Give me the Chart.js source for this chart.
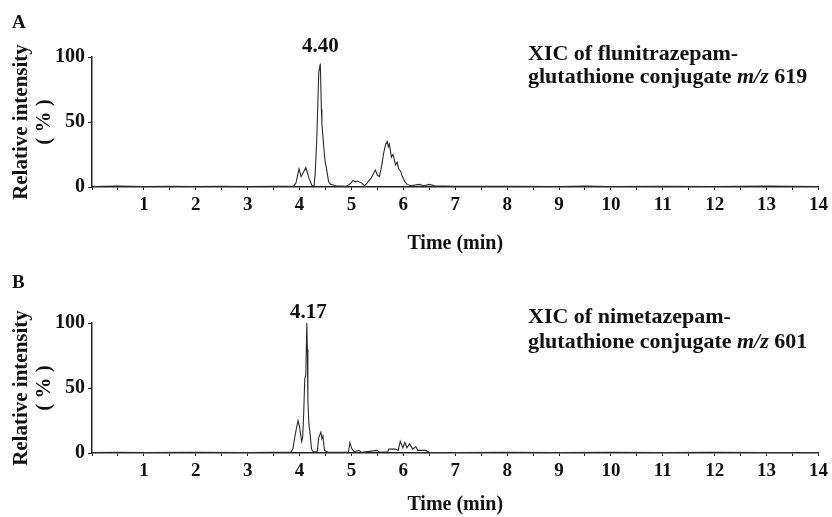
<!DOCTYPE html>
<html>
<head>
<meta charset="utf-8">
<script src="https://cdn.jsdelivr.net/npm/chart.js@4"></script>
<style>
  html, body { margin: 0; padding: 0; background: #fff; }
  #wrap { position: relative; width: 832px; height: 517px; }
  canvas { position: absolute; left: 0; }
  #chartA { top: 0; }
  #chartB { top: 260px; }
</style>
</head>
<body>
<div id="wrap">
  <canvas id="chartA" width="832" height="260"></canvas>
  <canvas id="chartB" width="832" height="257"></canvas>
</div>
<script>
// panel A - flunitrazepam-GSH conjugate, m/z 619
const timeA = [0, 0.5, 1, 1.5, 2, 2.5, 3, 3.5, 3.88, 3.93, 3.99, 4.03, 4.07, 4.12, 4.18, 4.24, 4.28,
  4.30, 4.33, 4.35, 4.37, 4.40, 4.42, 4.43, 4.46, 4.49, 4.51, 4.56, 4.60, 4.65, 4.70, 4.90,
  4.99, 5.03, 5.08, 5.12, 5.20, 5.25, 5.30, 5.38, 5.46, 5.50, 5.54, 5.59, 5.62, 5.66, 5.69,
  5.71, 5.73, 5.77, 5.80, 5.82, 5.85, 5.88, 5.91, 5.95, 5.98, 6.03, 6.07, 6.15, 6.30, 6.40,
  6.50, 6.60, 7, 8, 9, 9.5, 10, 11, 12, 13, 13.5, 14];
const intensityA = [0.4, 0.8, 0.4, 0.5, 0.4, 0.5, 0.4, 0.6, 0.5, 3, 14, 8, 11, 15, 7, 1, 1,
  10, 35, 62, 88, 95, 60, 49, 34, 20, 16, 4, 2, 1.5, 1, 0.5,
  3, 5, 4, 4.5, 3, 1, 3, 7, 13, 9, 8, 18, 26, 33, 35,
  31, 33, 23, 25, 22, 17, 19, 14, 12, 8, 4, 2, 1, 2, 1,
  2, 1, 0.5, 0.5, 0.4, 0.7, 0.4, 0.5, 0.4, 0.8, 0.5, 0.4];

// panel B - nimetazepam-GSH conjugate, m/z 601
const timeB = [0, 0.5, 1, 2, 3, 3.5, 3.83, 3.87, 3.92, 3.97, 4.00, 4.04, 4.06, 4.08, 4.10,
  4.12, 4.14, 4.15, 4.16, 4.18, 4.20, 4.23, 4.26, 4.34, 4.37, 4.41, 4.43, 4.45, 4.48, 4.55,
  4.94, 4.97, 5.01, 5.05, 5.14, 5.20, 5.49, 5.55, 5.70, 5.72, 5.85, 5.90, 5.94, 5.99, 6.03,
  6.07, 6.12, 6.18, 6.24, 6.28, 6.33, 6.43, 6.50, 7, 8, 9, 10, 11, 12, 13, 14];
const intensityB = [0.4, 0.5, 0.4, 0.5, 0.4, 0.5, 0.5, 3, 15, 25, 20, 9, 12, 31, 57,
  60, 100, 80, 41, 22, 16, 3, 1, 1, 12, 16, 11, 13, 2, 0.5,
  0.5, 8, 3, 1, 2, 0.5, 2, 0.5, 1, 3, 3, 2, 9, 4, 8,
  4, 7, 3, 5, 2, 2, 2, 0.5, 0.4, 0.5, 0.4, 0.5, 0.4, 0.5, 0.4, 0.4];

const xTickLabels = ['1', '2', '3', '4', '5', '6', '7', '8', '9', '10', '11', '12', '13', '14'];
const yTickLabels = ['0', '50', '100'];

const serif = "'Liberation Serif', 'Times New Roman', serif";

// letters, peak label and the XIC caption
const panelText = {
  id: 'panelText',
  afterDraw(chart, args, o) {
    const ctx = chart.ctx;
    const area = chart.chartArea;
    ctx.save();
    ctx.fillStyle = '#111';
    ctx.textBaseline = 'middle';
    ctx.textAlign = 'left';
    ctx.font = 'bold 19px ' + serif;
    ctx.fillText(o.letter, 12, 23);

    ctx.textAlign = 'center';
    ctx.font = 'bold 21px ' + serif;
    ctx.fillText(o.peakLabel, chart.scales.x.getPixelForValue(o.peakTime), area.top - 10);

    ctx.textAlign = 'left';
    ctx.textBaseline = 'alphabetic';
    ctx.font = 'bold 22px ' + serif;
    ctx.fillText(o.line1, 528, o.base1);
    let x = 528;
    o.line2.forEach(function (p) {
      ctx.font = p[1] + ' 22px ' + serif;
      ctx.fillText(p[0], x, o.base2);
      x += ctx.measureText(p[0]).width;
    });
    ctx.restore();
  }
};

function makeChart(id, times, values, padTop, xHeight, titlePadBottom, text) {
  const pts = times.map(function (t, i) { return { x: t, y: values[i] }; });
  return new Chart(document.getElementById(id), {
    type: 'line',
    data: {
      datasets: [{
        data: pts,
        borderColor: '#2a2a2a',
        borderWidth: 1.1,
        pointRadius: 0,
        tension: 0,
        fill: false
      }]
    },
    options: {
      responsive: false,
      animation: false,
      layout: { padding: { top: padTop, right: 11, left: 0, bottom: 0 } },
      plugins: {
        legend: { display: false },
        tooltip: { enabled: false },
        panelText: text
      },
      scales: {
        x: {
          type: 'linear',
          min: 0,
          max: 14,
          afterFit: function (s) { s.height = xHeight; },
          border: { color: '#222', width: 1.5 },
          grid: { drawOnChartArea: false, drawTicks: true, tickLength: 3, color: '#222' },
          ticks: {
            stepSize: 0.5,
            autoSkip: false,
            maxRotation: 0,
            padding: 4,
            color: '#111',
            font: { family: serif, size: 19, weight: 'bold' },
            callback: function (v) {
              return (Number.isInteger(v) && v > 0) ? xTickLabels[v - 1] : '';
            }
          },
          title: {
            display: true,
            text: 'Time (min)',
            color: '#111',
            font: { family: serif, size: 20, weight: 'bold', lineHeight: 1.2 },
            padding: { top: 0, bottom: titlePadBottom }
          }
        },
        y: {
          min: 0,
          max: 100,
          afterFit: function (s) { s.width = 92; },
          border: { color: '#222', width: 1.5 },
          grid: { drawOnChartArea: false, drawTicks: true, tickLength: 4, color: '#222' },
          ticks: {
            stepSize: 50,
            padding: 3,
            color: '#111',
            font: { family: serif, size: 20, weight: 'bold' },
            callback: function (v) { return yTickLabels[v / 50]; }
          },
          title: {
            display: true,
            text: ['Relative intensity', '( % )'],
            color: '#111',
            font: { family: serif, size: 21, weight: 'bold', lineHeight: 1.1 },
            padding: { top: 10, bottom: 0 }
          }
        }
      }
    },
    plugins: [panelText]
  });
}

makeChart('chartA', timeA, intensityA, 57, 73, 4, {
  letter: 'A', peakLabel: '4.40', peakTime: 4.40,
  line1: 'XIC of flunitrazepam-',
  line2: [['glutathione conjugate ', 'bold'], ['m/z', 'bold italic'], [' 619', 'bold']],
  base1: 60, base2: 83
});

makeChart('chartB', timeB, intensityB, 63, 64, 0, {
  letter: 'B', peakLabel: '4.17', peakTime: 4.17,
  line1: 'XIC of nimetazepam-',
  line2: [['glutathione conjugate ', 'bold'], ['m/z', 'bold italic'], [' 601', 'bold']],
  base1: 63, base2: 88
});
</script>
</body>
</html>
